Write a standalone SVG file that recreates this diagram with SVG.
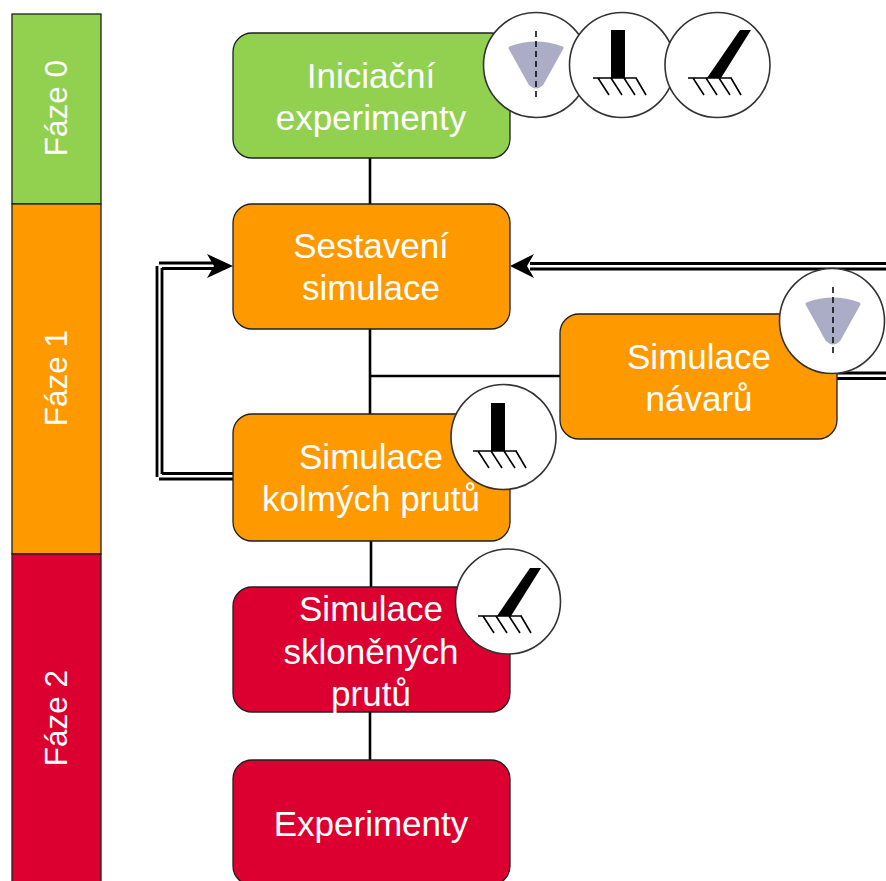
<svg xmlns="http://www.w3.org/2000/svg" width="886" height="881" viewBox="0 0 886 881">
<style>
text{font-family:"Liberation Sans",Arial,sans-serif;font-size:35px;fill:#fff;text-anchor:middle}
text.ph{font-size:31.500px}
.box{stroke:#1f1f1f;stroke-width:1.3}
.green{fill:#92d050}.orange{fill:#ff9900}.red{fill:#dc0030}
.line{fill:none;stroke:#000;stroke-width:2.6}
.dbl{fill:none;stroke:#000;stroke-width:2.8}
.badge{fill:#fff;stroke:#333;stroke-width:1.6}
.hatch{fill:none;stroke:#000;stroke-width:1.6}
.cone{fill:#abadc6;stroke:#abadc6;stroke-width:3;stroke-linejoin:round}
.axis{fill:none;stroke:#000;stroke-width:1.5;stroke-dasharray:6 4}
</style>
<defs>
<g id="fan"><path class="cone" d="M-26-17Q0-27 26-17L6 19Q0 25-6 19Z"/><path class="axis" d="M0-34V35"/></g>
<g id="ground"><path class="hatch" d="M-22 0H22M-17 0L-6 17M-4 0L7 17M9 0L20 17M21 0L31 17"/></g>
<g id="straight"><rect x="-4" y="-48" width="14" height="48"/><use href="#ground"/></g>
<g id="tilted"><path d="M-3 0L30-48H41L11 0Z"/><use href="#ground"/></g>
</defs>
<g id="phase-0"><rect class="box green" x="12" y="14" width="89" height="190"/><text class="ph" transform="translate(67 108) rotate(-90)">Fáze 0</text></g>
<g id="phase-1"><rect class="box orange" x="12" y="204" width="89" height="350"/><text class="ph" transform="translate(67 378) rotate(-90)">Fáze 1</text></g>
<g id="phase-2"><rect class="box red" x="12" y="554" width="89" height="335"/><text class="ph" transform="translate(67 718) rotate(-90)">Fáze 2</text></g>
<g id="connectors">
<path class="line" d="M370 158V204M370 329V414M370 376H560M371 541V587M370 712V760"/>
<path class="dbl" d="M157 266V477M162 268V474M159 263H214M162 268.500H214M159 479H233M162 473.500H233M886 263.500H530M886 269H530M837 373H886M837 378.500H886"/>
<path d="M233 266L207 254L214 266L207 278Z"/>
<path d="M510 266L534 254L527 266L534 278Z"/>
</g>
<g id="node-iniciacni"><rect class="box green" x="233" y="33" width="277" height="125" rx="19"/><text x="371" y="88">Iniciační</text><text x="371" y="130">experimenty</text></g>
<g id="node-sestaveni"><rect class="box orange" x="233" y="204" width="277" height="125" rx="19"/><text x="371" y="258">Sestavení</text><text x="371" y="300">simulace</text></g>
<g id="node-navaru"><rect class="box orange" x="560" y="314" width="277" height="125" rx="19"/><text x="699" y="369">Simulace</text><text x="699" y="411">návarů</text></g>
<g id="node-kolmych"><rect class="box orange" x="233" y="414" width="277" height="127" rx="19"/><text x="371" y="469">Simulace</text><text x="371" y="511">kolmých prutů</text></g>
<g id="node-sklonenych"><rect class="box red" x="233" y="587" width="277" height="125" rx="19"/><text x="371" y="621">Simulace</text><text x="371" y="664">skloněných</text><text x="371" y="706">prutů</text></g>
<g id="node-experimenty"><rect class="box red" x="233" y="760" width="277" height="125" rx="19"/><text x="371" y="836">Experimenty</text></g>
<g id="badge-fan-top"><circle class="badge" cx="536" cy="65" r="52.500"/><use href="#fan" x="536" y="65"/></g>
<g id="badge-straight-top"><circle class="badge" cx="622" cy="65" r="52.500"/><use href="#straight" x="615" y="78"/></g>
<g id="badge-tilted-top"><circle class="badge" cx="717.500" cy="65" r="52.500"/><use href="#tilted" x="710" y="78"/></g>
<g id="badge-fan-navaru"><circle class="badge" cx="832" cy="321" r="52.500"/><use href="#fan" x="833" y="321"/></g>
<g id="badge-straight-kolmych"><circle class="badge" cx="503.500" cy="437" r="52.500"/><use href="#straight" x="495" y="451"/></g>
<g id="badge-tilted-sklonenych"><circle class="badge" cx="508" cy="601.500" r="52.500"/><use href="#tilted" x="500" y="616"/></g>
</svg>
